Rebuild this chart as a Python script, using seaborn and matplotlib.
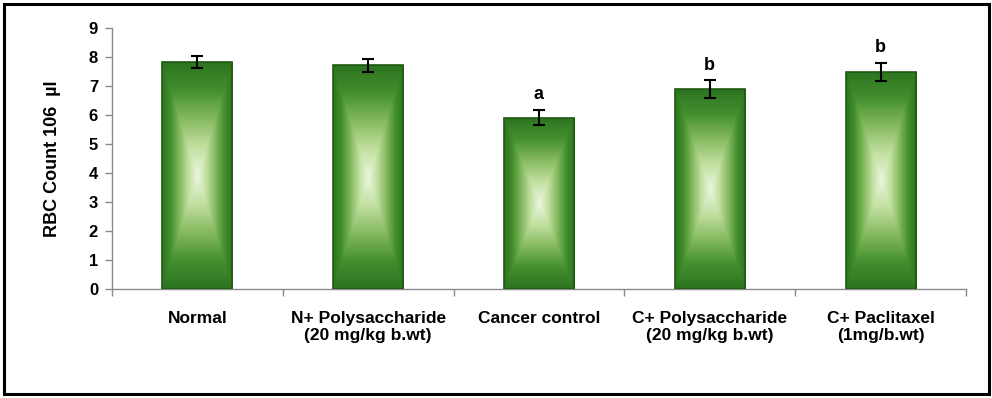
import matplotlib
matplotlib.use("Agg")
import matplotlib.pyplot as plt
import matplotlib.colors as mcolors
import numpy as np
import pandas as pd
import seaborn as sns

# data
lstGroups = [
	"Normal",
	"N+ Polysaccharide\n(20 mg/kg b.wt)",
	"Cancer control",
	"C+ Polysaccharide\n(20 mg/kg b.wt)",
	"C+ Paclitaxel\n(1mg/b.wt)",
]
lstMeans = [7.82, 7.71, 5.9, 6.89, 7.49]
lstErrors = [0.21, 0.22, 0.26, 0.3, 0.31]
lstLetters = ["", "", "a", "b", "b"]
lstYTicks = list(range(0, 10))

sns.set_theme(style="white")
plt.rcParams["font.family"] = ["Liberation Sans", "DejaVu Sans"]
plt.rcParams["font.weight"] = "bold"
plt.rcParams["text.color"] = "black"
plt.rcParams["axes.labelcolor"] = "black"
plt.rcParams["xtick.color"] = "black"
plt.rcParams["ytick.color"] = "black"

dfData = pd.DataFrame({"group": lstGroups, "value": lstMeans})

fig = plt.figure(figsize=(9.92, 3.98), dpi=100)
ax = fig.add_axes([112 / 992, 1 - 289 / 398, (966 - 112) / 992, (289 - 28) / 398])

sns.barplot(data=dfData, x="group", y="value", ax=ax, width=0.41,
			color="#3d8a2a", edgecolor="#1f5a12", linewidth=1.2, zorder=2)

# rectangular "from centre" gradient fill like the office chart
cmapBar = mcolors.LinearSegmentedColormap.from_list(
	"bar", ["#eaf6de", "#c2e0a0", "#86ba60", "#44902f", "#2c7420"])
iRes = 200
arrU = np.linspace(-1, 1, iRes)
arrV = np.linspace(-1, 1, iRes)
arrUU, arrVV = np.meshgrid(arrU, arrV)
arrGrad = np.maximum(np.abs(arrUU), np.abs(arrVV))
for oPatch in ax.patches:
	fX, fY = oPatch.get_x(), oPatch.get_y()
	fW, fH = oPatch.get_width(), oPatch.get_height()
	oImg = ax.imshow(arrGrad, cmap=cmapBar, vmin=0, vmax=1, aspect="auto",
					 extent=[fX, fX + fW, fY, fY + fH], zorder=2.5,
					 interpolation="bilinear")
	oImg.set_clip_path(oPatch)
	oPatch.set_facecolor("none")
	oPatch.set_zorder(3)

arrX = np.arange(len(lstGroups))
ax.errorbar(arrX, lstMeans, yerr=lstErrors, fmt="none", ecolor="black",
			elinewidth=1.5, capsize=4.5, capthick=1.5, zorder=4)

for i, sLetter in enumerate(lstLetters):
	if sLetter:
		ax.annotate(sLetter, (arrX[i], lstMeans[i] + lstErrors[i]),
					xytext=(0, 5), textcoords="offset points",
					ha="center", va="bottom", fontsize=13, fontweight="bold",
					color="black")

ax.set_xlim(-0.5, len(lstGroups) - 0.5)
ax.set_ylim(0, 9)
ax.set_yticks(lstYTicks)
ax.set_yticklabels([str(v) for v in lstYTicks], fontsize=12, fontweight="bold")
ax.set_xticks(arrX)
ax.set_xticklabels(lstGroups, fontsize=12.5, fontweight="bold", linespacing=1.15)
ax.set_xticks(np.arange(len(lstGroups) + 1) - 0.5, minor=True)
ax.tick_params(axis="x", which="major", bottom=True, length=0, pad=16, labelcolor="black")
ax.tick_params(axis="x", which="minor", bottom=True, length=5, width=1,
			   color="#8a8a8a", direction="out")
ax.tick_params(axis="y", which="major", left=True, length=5, width=1,
			   color="#8a8a8a", direction="out", pad=5, labelcolor="black")

ax.set_xlabel("")
ax.set_ylabel("RBC Count 106  µl", fontsize=13, fontweight="bold",
			  color="black", labelpad=20)

for sSide in ["top", "right"]:
	ax.spines[sSide].set_visible(False)
for sSide in ["left", "bottom"]:
	ax.spines[sSide].set_color("#8a8a8a")
	ax.spines[sSide].set_linewidth(1)

# outer frame of the picture
oFrame = plt.Rectangle((3.5 / 992, 4 / 398), (989 - 3.5) / 992, (394.5 - 4) / 398,
					   transform=fig.transFigure, fill=False, edgecolor="black",
					   linewidth=2.2, zorder=10)
fig.patches.append(oFrame)

fig.savefig("out.png", dpi=100)
plt.close(fig)
